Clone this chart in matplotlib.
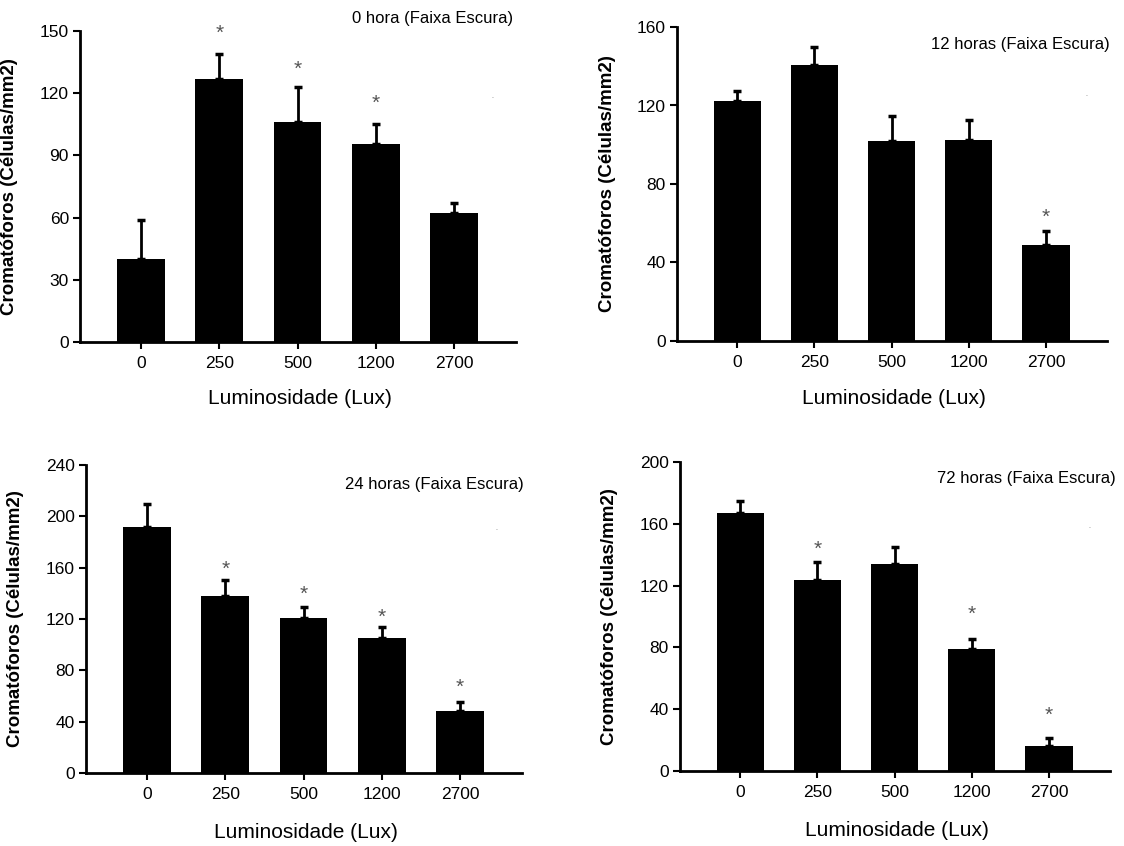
import matplotlib.pyplot as plt

plt.rcParams['font.family'] = ['Liberation Sans', 'DejaVu Sans']

# categories (Lux)
lux = ['0', '250', '500', '1200', '2700']

# 0 hora
p0_vals = [40, 127, 106, 95.5, 62]
p0_err = [19, 12, 17, 9.5, 5]
p0_star = [None, 149, 131.5, 115, None]

# 12 horas
p12_vals = [122.5, 140.5, 102, 102.5, 49]
p12_err = [5, 9.5, 12.5, 10, 7]
p12_star = [None, None, None, None, 63]

# 24 horas
p24_vals = [191.5, 138, 121, 105, 48]
p24_err = [18, 12, 8, 9, 7.5]
p24_star = [None, 159, 139.5, 121.5, 67]

# 72 horas
p72_vals = [167, 123.5, 134, 79, 16.5]
p72_err = [7.5, 12, 11, 6.5, 5]
p72_star = [None, 143.5, None, 101.5, 36]

W, H = 1124, 846
fig = plt.figure(figsize=(W / 100, H / 100), dpi=100)

panels = [
    # values, errors, stars, title, ymax, yticks, axes box (x0, x1, ytop, ybot), title pos, ylabel x, xlabel y, dot
    (p0_vals, p0_err, p0_star, '0 hora (Faixa Escura)', 150, [0, 30, 60, 90, 120, 150],
     (80, 516, 31, 342), (513, 18), 10, 398, (492, 96)),
    (p12_vals, p12_err, p12_star, '12 horas (Faixa Escura)', 160, [0, 40, 80, 120, 160],
     (677, 1107, 27, 341), (1110, 45), 607, 399, (1086, 95)),
    (p24_vals, p24_err, p24_star, '24 horas (Faixa Escura)', 240, [0, 40, 80, 120, 160, 200, 240],
     (86, 522, 465, 773), (524, 484), 16, 832, (496, 528)),
    (p72_vals, p72_err, p72_star, '72 horas (Faixa Escura)', 200, [0, 40, 80, 120, 160, 200],
     (680, 1110, 462, 771), (1116, 478), 610, 830, (1089, 527)),
]

for vals, errs, stars, title, ymax, yticks, box, tpos, ylx, xly, dot in panels:
    x0, x1, yt, yb = box
    ax = fig.add_axes([x0 / W, 1 - yb / H, (x1 - x0) / W, (yb - yt) / H])
    pos = list(range(len(lux)))
    ax.bar(pos, vals, width=0.61, color='black', zorder=2)
    ax.errorbar(pos, vals, yerr=[[0] * len(errs), errs], fmt='none', ecolor='black',
                elinewidth=2, capsize=3, capthick=2.5, zorder=1)
    for p, s in zip(pos, stars):
        if s is not None:
            ax.text(p, s, '*', ha='center', va='center', fontsize=15, color='#555555')
    ax.set_xlim(-0.78, 4.79)
    ax.set_ylim(0, ymax)
    ax.set_yticks(yticks)
    ax.set_xticks(pos)
    ax.set_xticklabels(lux)
    for side in ['top', 'right']:
        ax.spines[side].set_visible(False)
    for side in ['left', 'bottom']:
        ax.spines[side].set_linewidth(2)
    ax.tick_params(direction='out', length=5, width=1.5, labelsize=12.5, pad=3)
    ax.tick_params(axis='x', pad=5)
    fig.text(tpos[0] / W, 1 - tpos[1] / H, title, ha='right', va='center', fontsize=12)
    fig.text(ylx / W, 1 - ((yt + yb) / 2) / H, 'Cromatóforos (Células/mm2)', rotation=90,
             ha='center', va='center', fontsize=13.5, fontweight='bold')
    fig.text(((x0 + x1) / 2 + 2) / W, 1 - xly / H, 'Luminosidade (Lux)', ha='center', va='center',
             fontsize=15)
    fig.text(dot[0] / W, 1 - dot[1] / H, '.', ha='center', va='center', fontsize=5, color='#666666')

fig.savefig('out.png', dpi=100, facecolor='white')
